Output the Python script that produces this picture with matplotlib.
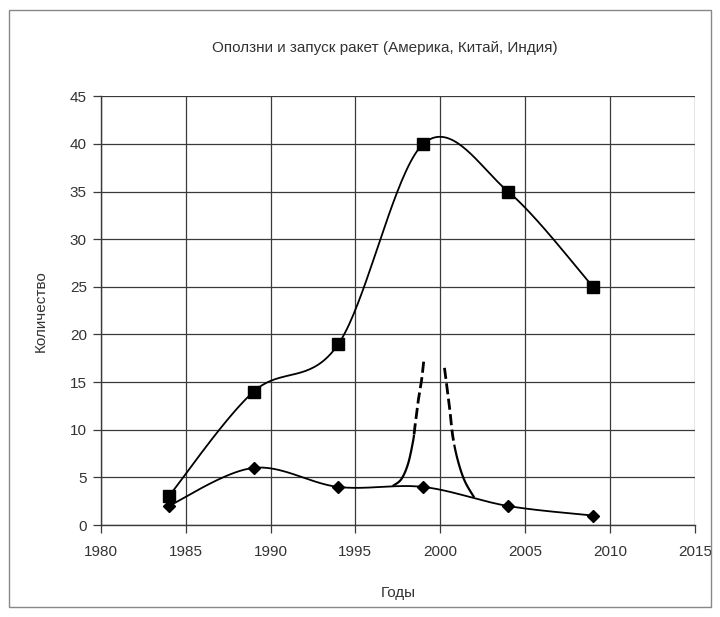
import numpy as np
import matplotlib
matplotlib.use("Agg")
import matplotlib.pyplot as plt
from matplotlib.patches import Rectangle

plt.rcParams['font.family'] = ['Liberation Sans', 'DejaVu Sans']

# ---- data ----
years = [1984, 1989, 1994, 1999, 2004, 2009]
landslides = [3, 14, 19, 40, 35, 25]          # squares
launches = [2, 6, 4, 4, 2, 1]                 # diamonds

# spike: left branch and right branch (lower part solid, upper part dashed)
spike_left_x = [1997.2, 1997.7, 1998.1, 1998.4, 1998.5, 1998.7, 1998.9, 1999.04]
spike_left_y = [4.1, 4.8, 6.4, 8.8, 10.2, 13.0, 15.2, 17.4]
spike_right_x = [2000.25, 2000.55, 2000.75, 2001.05, 2001.45, 2002.0]
spike_right_y = [16.5, 12.3, 9.2, 6.7, 4.6, 2.9]
dash_from_left = 9.5    # value above which the left branch is dashed
dash_from_right = 8.5   # value above which the right branch is dashed

title = "Оползни и запуск ракет (Америка, Китай, Индия)"
xlabel = "Годы"
ylabel = "Количество"
xticks = [1980, 1985, 1990, 1995, 2000, 2005, 2010, 2015]
yticks = [0, 5, 10, 15, 20, 25, 30, 35, 40, 45]


def smooth(x, y, n=40):
    x = np.asarray(x, float)
    y = np.asarray(y, float)
    P = np.column_stack([x, y])
    out = []
    for i in range(len(P) - 1):
        p0 = P[i - 1] if i > 0 else P[i]
        p1 = P[i]
        p2 = P[i + 1]
        p3 = P[i + 2] if i + 2 < len(P) else P[i + 1]
        c1 = p1 + (p2 - p0) / 6.0
        c2 = p2 - (p3 - p1) / 6.0
        t = np.linspace(0, 1, n)[:, None]
        seg = ((1 - t) ** 3) * p1 + 3 * ((1 - t) ** 2) * t * c1 + 3 * (1 - t) * t ** 2 * c2 + t ** 3 * p2
        out.append(seg if i == 0 else seg[1:])
    s = np.vstack(out)
    return s[:, 0], s[:, 1]


fig = plt.figure(figsize=(7.2, 6.17), dpi=100)
ax = fig.add_axes([0.140, 0.149, 0.825, 0.695])

txtc = '#333333'
gridc = '#3a3a3a'

sx, sy = smooth(years, landslides)
ax.plot(sx, sy, color='black', lw=1.3, zorder=3)
ax.plot(years, landslides, ls='none', marker='s', ms=8, color='black', zorder=4)

dx, dy = smooth(years, launches)
ax.plot(dx, dy, color='black', lw=1.3, zorder=3)
ax.plot(years, launches, ls='none', marker='D', ms=6.5, color='black', zorder=4)

for xs, ys, thr in [(spike_left_x, spike_left_y, dash_from_left),
                    (spike_right_x, spike_right_y, dash_from_right)]:
    px, py = smooth(xs, ys)
    solid = py <= thr
    dashed = py >= thr
    ax.plot(px[solid], py[solid], color='black', lw=1.6, zorder=3,
            solid_capstyle='butt')
    ax.plot(px[dashed], py[dashed], color='black', lw=2.0, ls=(0, (4, 1.6)),
            zorder=3, dash_capstyle='butt')

ax.set_xlim(1980, 2015)
ax.set_ylim(0, 45)
ax.set_xticks(xticks)
ax.set_yticks(yticks)
ax.grid(True, color=gridc, lw=0.9)
ax.set_axisbelow(True)
for s in ['top', 'right']:
    ax.spines[s].set_visible(False)
for s in ['left', 'bottom']:
    ax.spines[s].set_color(gridc)
    ax.spines[s].set_linewidth(1.0)
ax.tick_params(direction='out', length=6, width=0.9, color=gridc,
               labelsize=11, labelcolor=txtc)
ax.tick_params(axis='x', pad=8)
ax.tick_params(axis='y', pad=4)

ax.set_xlabel(xlabel, fontsize=11, color=txtc, labelpad=20)
ax.set_ylabel(ylabel, fontsize=11, color=txtc, labelpad=16)
fig.text(0.535, 0.923, title, ha='center', va='center', fontsize=11, color=txtc)

fig.add_artist(Rectangle((0.012, 0.016), 0.976, 0.968, transform=fig.transFigure,
                         fill=False, edgecolor='#888888', lw=1.0))

fig.savefig("out.png", dpi=100, facecolor='white')
